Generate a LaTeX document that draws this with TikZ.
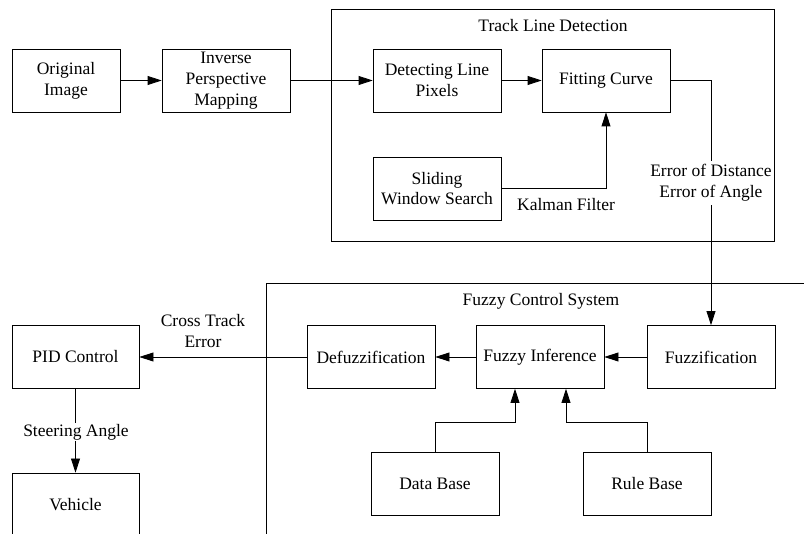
\documentclass[tikz,border=0pt]{standalone}
\usepackage{fontspec}
\setmainfont{Liberation Serif}
\usetikzlibrary{arrows.meta}
\tikzset{
  txt/.style={font=\fontsize{17.5}{20.7}\selectfont},
  blk/.style={txt, draw, line width=0.8pt, minimum width=128pt, minimum height=63pt, align=center, inner sep=0pt},
  lbl/.style={txt, align=center, inner sep=0pt},
  conn/.style={line width=0.8pt, -{Triangle[length=14pt,width=9pt]}},
  frm/.style={line width=0.8pt}
}
\begin{document}
\begin{tikzpicture}[x=1pt,y=-1pt]
\useasboundingbox (0,0) rectangle (804,534);
\clip (0,0) rectangle (804,534);
\fill[white] (0,0) rectangle (804,534);

% blocks
\node[blk, minimum width=108pt] (oi) at (66,80.5) {Original\\Image};
\node[blk] (ipm) at (226,80.5) {Inverse\\Perspective\\Mapping};
\node[blk] (dlp) at (437,80.5) {Detecting Line\\Pixels};
\node[blk] (fc) at (606,80.5) {Fitting Curve};
\node[blk] (sws) at (437,188.5) {Sliding\\Window Search};
\node[blk, minimum width=127pt] (pid) at (75.5,357) {PID Control};
\node[blk, minimum width=127pt] (veh) at (75.5,504.5) {Vehicle};
\node[blk] (def) at (371,357) {Defuzzification};
\node[blk] (fi) at (540,357) {Fuzzy Inference};
\node[blk] (fz) at (711,357) {Fuzzification};
\node[blk] (db) at (435,483.5) {Data Base};
\node[blk] (rb) at (647,483.5) {Rule Base};

% connectors
\draw[conn] (oi) -- (ipm);
\draw[conn] (ipm) -- (dlp);
\draw[conn] (dlp) -- (fc);
\draw[conn] (sws.east) -| (fc.south);
\draw[conn] (fc.east) -| (fz.north);
\draw[conn] (fz) -- (fi);
\draw[conn] (fi) -- (def);
\draw[conn] (def) -- (pid);
\draw[conn] (pid) -- (veh);
\draw[conn] (db.north) -- ++(0,-29) -| ([xshift=-25pt]fi.south);
\draw[conn] (rb.north) -- ++(0,-29) -| ([xshift=26pt]fi.south);

% labels
\node[lbl, fill=white, inner ysep=4pt] (err) at (711,183) {Error of Distance\\Error of Angle};
\node[lbl] (kal) at (566,205) {Kalman Filter};
\node[lbl] (cte) at (203,331) {Cross Track\\Error};
\node[lbl, fill=white, inner ysep=1.5pt] (ste) at (76,432) {Steering Angle};
\node[lbl] (tldt) at (553,26) {Track Line Detection};
\node[lbl] (fcst) at (541,301) {Fuzzy Control System};

% frames
\draw[frm] (331,9) rectangle (774,241);
\draw[frm] (266,540) -- (266,283) -- (810,283);
\end{tikzpicture}
\end{document}
